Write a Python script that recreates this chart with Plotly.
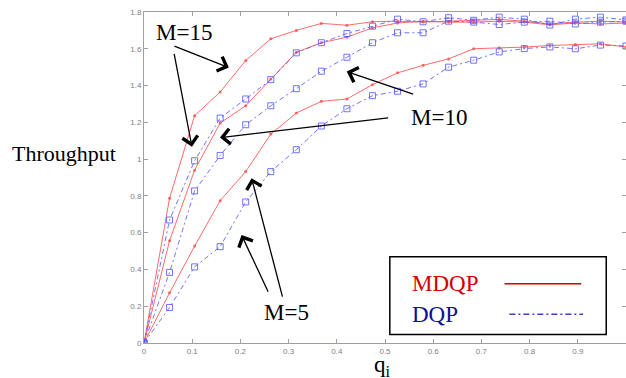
import plotly.graph_objects as go

# ---- data ----
q_values = [0, 0.053, 0.105, 0.158, 0.211, 0.263, 0.316, 0.368, 0.421, 0.474,
            0.526, 0.579, 0.632, 0.684, 0.737, 0.789, 0.842, 0.895, 0.947, 1.0]

mdqp_m15 = [0, 0.787, 1.236, 1.365, 1.536, 1.654, 1.700, 1.738, 1.728, 1.747,
            1.750, 1.745, 1.750, 1.755, 1.760, 1.750, 1.735, 1.745, 1.750, 1.745]
dqp_m15 = [0, 0.669, 0.991, 1.223, 1.327, 1.432, 1.578, 1.633, 1.683, 1.723,
           1.761, 1.747, 1.769, 1.755, 1.772, 1.761, 1.729, 1.761, 1.772, 1.757]
mdqp_m10 = [0, 0.556, 0.940, 1.196, 1.290, 1.436, 1.581, 1.633, 1.663, 1.714,
            1.740, 1.750, 1.745, 1.745, 1.750, 1.745, 1.730, 1.740, 1.735, 1.740]
dqp_m10 = [0, 0.384, 0.827, 1.020, 1.187, 1.290, 1.383, 1.478, 1.554, 1.633,
           1.687, 1.687, 1.750, 1.745, 1.732, 1.745, 1.750, 1.735, 1.745, 1.750]
mdqp_m5 = [0, 0.273, 0.527, 0.774, 0.932, 1.136, 1.251, 1.314, 1.327, 1.405,
           1.469, 1.510, 1.545, 1.600, 1.605, 1.609, 1.618, 1.623, 1.627, 1.610]
dqp_m5 = [0, 0.193, 0.414, 0.524, 0.767, 0.932, 1.051, 1.180, 1.274, 1.345,
          1.369, 1.409, 1.500, 1.538, 1.583, 1.601, 1.610, 1.600, 1.620, 1.615]

x_ticks = [0, 0.1, 0.2, 0.3, 0.4, 0.5, 0.6, 0.7, 0.8, 0.9, 1]
x_tick_labels = ["0", "0.1", "0.2", "0.3", "0.4", "0.5", "0.6", "0.7", "0.8", "0.9", "1"]
y_ticks = [0, 0.2, 0.4, 0.6, 0.8, 1.0, 1.2, 1.4, 1.6, 1.8]
y_tick_labels = ["0", "0.2", "0.4", "0.6", "0.8", "1", "1.2", "1.4", "1.6", "1.8"]

legend_names = ["MDQP", "DQP"]

RED = "rgba(255,80,80,0.85)"
BLUE = "rgba(90,90,255,0.85)"
SERIF = "Liberation Serif"

fig = go.Figure()

for ys in [mdqp_m15, mdqp_m10, mdqp_m5]:
    fig.add_trace(go.Scatter(
        x=q_values, y=ys, mode="lines+markers",
        line=dict(color=RED, width=1),
        marker=dict(color=RED, size=3, symbol="circle"),
        showlegend=False, hoverinfo="skip"))

for ys in [dqp_m15, dqp_m10, dqp_m5]:
    fig.add_trace(go.Scatter(
        x=q_values, y=ys, mode="lines+markers",
        line=dict(color=BLUE, width=1, dash="5px,3px,2px,3px"),
        marker=dict(color=BLUE, size=6, symbol="square-open", line=dict(width=1)),
        showlegend=False, hoverinfo="skip"))

annotations = []

# label texts
label_font = dict(family=SERIF, size=23, color="black")
annotations.append(dict(x=0.082, y=1.690, xref="x", yref="y", text="M=15",
                        showarrow=False, font=label_font, xanchor="center", yanchor="middle"))
annotations.append(dict(x=0.612, y=1.226, xref="x", yref="y", text="M=10",
                        showarrow=False, font=label_font, xanchor="center", yanchor="middle"))
annotations.append(dict(x=0.296, y=0.168, xref="x", yref="y", text="M=5",
                        showarrow=False, font=label_font, xanchor="center", yanchor="middle"))

# arrows (head x,y ; tail ax,ay)
arrows = [
    (0.176, 1.498, 0.060, 1.618),
    (0.0995, 1.067, 0.062, 1.580),
    (0.4206, 1.476, 0.5615, 1.351),
    (0.1575, 1.117, 0.5097, 1.225),
    (0.2024, 0.587, 0.259, 0.271),
    (0.2232, 0.896, 0.288, 0.244),
]
for hx, hy, tx, ty in arrows:
    annotations.append(dict(x=hx, y=hy, ax=tx, ay=ty, xref="x", yref="y",
                            axref="x", ayref="y", text="", showarrow=True,
                            arrowhead=4, arrowsize=2.3, arrowwidth=1.3,
                            arrowcolor="black"))

# legend texts
annotations.append(dict(x=0.5526, y=0.325, xref="x", yref="y", text=legend_names[0],
                        showarrow=False, xanchor="left", yanchor="middle",
                        font=dict(family=SERIF, size=23, color="#d40000")))
annotations.append(dict(x=0.5526, y=0.154, xref="x", yref="y", text=legend_names[1],
                        showarrow=False, xanchor="left", yanchor="middle",
                        font=dict(family=SERIF, size=23, color="#101090")))

# axis titles
annotations.append(dict(x=-0.165, y=0.574, xref="paper", yref="paper", text="Throughput",
                        showarrow=False, xanchor="center", yanchor="middle",
                        font=dict(family=SERIF, size=22, color="black")))
annotations.append(dict(x=0.494, y=-0.068, xref="paper", yref="paper", text="q<sub>i</sub>",
                        showarrow=False, xanchor="center", yanchor="middle",
                        font=dict(family=SERIF, size=23, color="black")))

shapes = [
    dict(type="rect", xref="x", yref="y", x0=0.51, x1=0.959, y0=0.046, y1=0.469,
         line=dict(color="black", width=1.5), fillcolor="white", layer="above"),
    dict(type="line", xref="x", yref="y", x0=0.748, x1=0.907, y0=0.322, y1=0.322,
         line=dict(color="#d00000", width=1.5)),
    dict(type="line", xref="x", yref="y", x0=0.758, x1=0.911, y0=0.156, y1=0.156,
         line=dict(color="#4040c0", width=1.5, dash="6px,3px,2px,3px")),
]

axis_common = dict(showgrid=False, zeroline=False, showline=True, linecolor="#a0a0a0",
                   linewidth=1, mirror="ticks", ticks="inside", ticklen=4,
                   tickcolor="#a0a0a0",
                   tickfont=dict(family="Liberation Sans", size=8, color="#808080"))

fig.update_layout(
    width=626, height=378,
    margin=dict(l=144, r=0, t=12, b=35),
    paper_bgcolor="white", plot_bgcolor="white",
    xaxis=dict(range=[0, 1], tickvals=x_ticks, ticktext=x_tick_labels, **axis_common),
    yaxis=dict(range=[0, 1.8], tickvals=y_ticks, ticktext=y_tick_labels, **axis_common),
    annotations=annotations, shapes=shapes, showlegend=False,
)

fig.write_html("out.html", config={"displayModeBar": False},
               post_script="document.body.style.margin='0';document.body.style.overflow='hidden';")
